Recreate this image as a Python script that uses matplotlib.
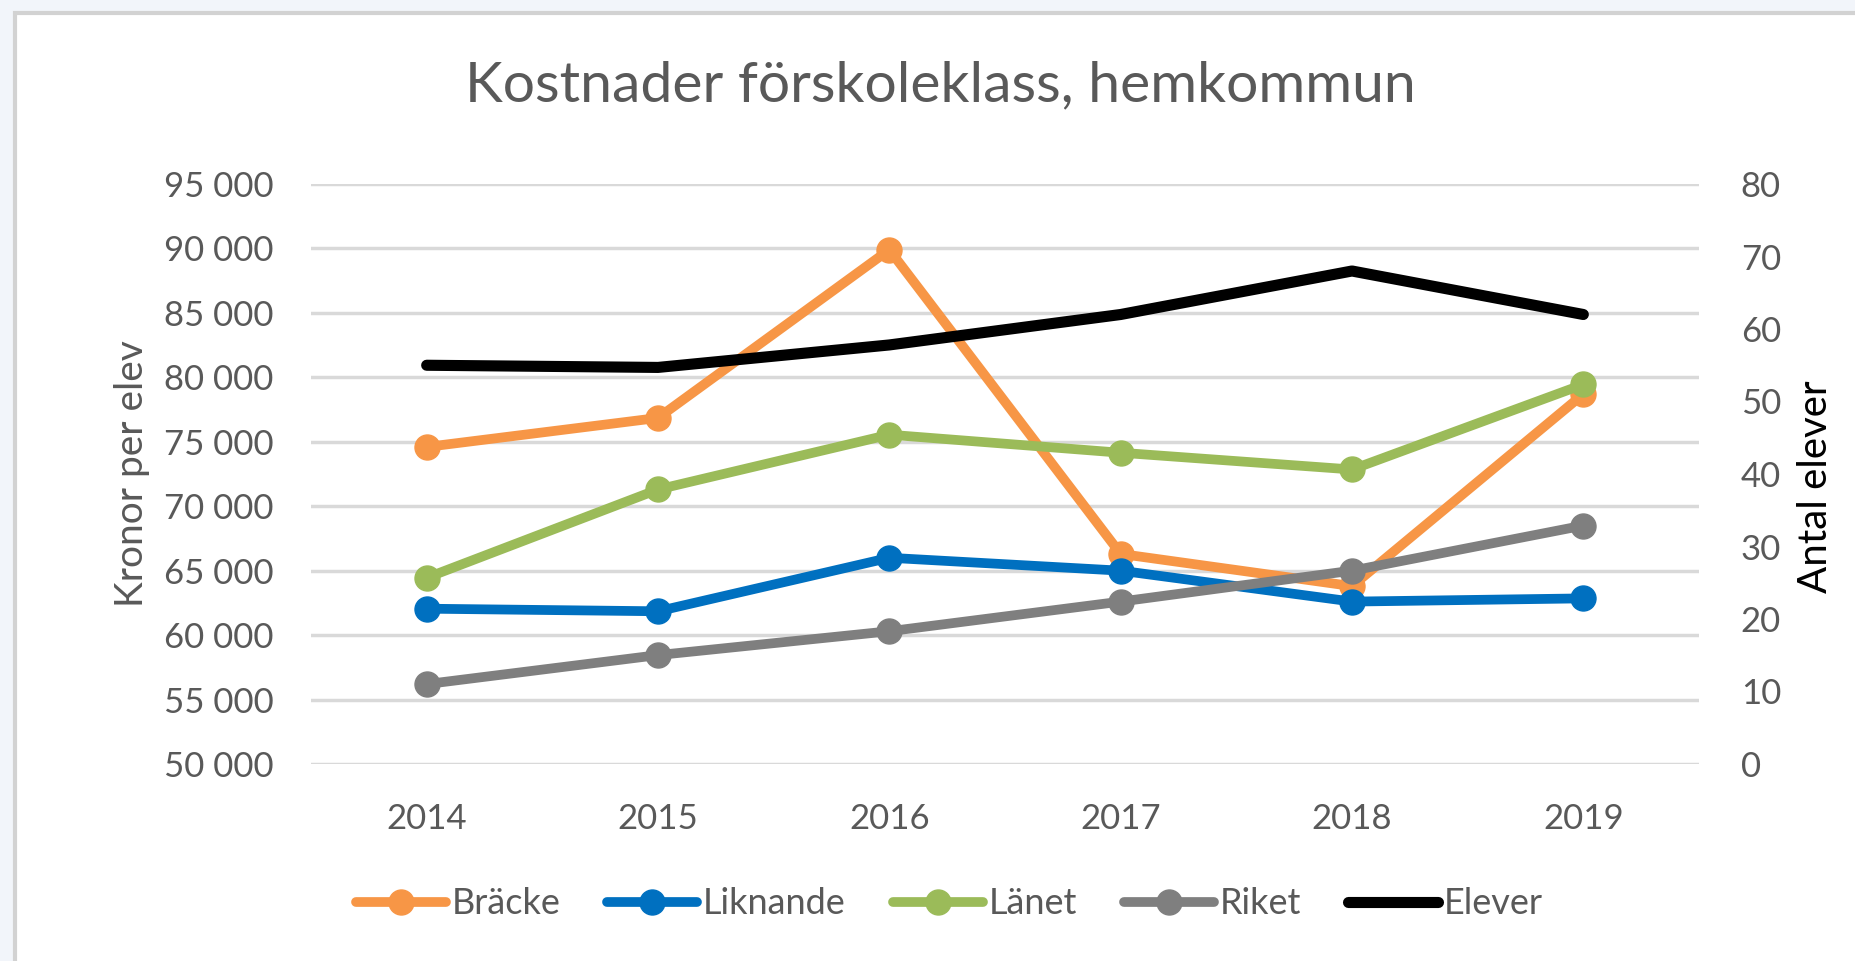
import matplotlib.pyplot as plt
from matplotlib.patches import Rectangle
from matplotlib.ticker import FuncFormatter, MultipleLocator

plt.rcParams['font.family'] = ['Lato', 'DejaVu Sans']

years = ["2014", "2015", "2016", "2017", "2018", "2019"]
bracke = [74600, 76850, 89900, 66300, 63800, 78700]
liknande = [62050, 61850, 66000, 65000, 62600, 62850]
lanet = [64450, 71300, 75550, 74150, 72850, 79450]
riket = [56200, 58450, 60300, 62600, 65000, 68500]
elever = [55, 54.7, 57.8, 62, 68, 62]

W, H = 1855, 961
fig = plt.figure(figsize=(W / 100, H / 100), dpi=100)
fig.patch.set_facecolor("#F2F5FA")

# white chart area with grey frame (runs off the right and bottom edges)
fig.patches.append(Rectangle((15 / W, -0.05), 1.1, 1.05 - 13 / H, transform=fig.transFigure,
                             facecolor="white", edgecolor="#D2D2D2", linewidth=3, zorder=-5))

ax = fig.add_axes([311 / W, 1 - 764 / H, (1699 - 311) / W, (764 - 184) / H])
ax.set_facecolor("none")
x = list(range(len(years)))
lw = 7
ms = 18

series = [("Bräcke", bracke, "#F79646"),
          ("Liknande", liknande, "#0070C0"),
          ("Länet", lanet, "#9BBB59"),
          ("Riket", riket, "#7F7F7F")]
handles = []
for name, vals, col in series:
    h, = ax.plot(x, vals, color=col, lw=lw, marker="o", ms=ms, label=name,
                 solid_joinstyle="round", solid_capstyle="round", zorder=3)
    handles.append(h)

ax.set_xlim(-0.5, 5.5)
ax.set_ylim(50000, 95000)
ax.yaxis.set_major_locator(MultipleLocator(5000))
ax.yaxis.set_major_formatter(FuncFormatter(lambda v, p: f"{int(v):,}".replace(",", " ")))
ax.grid(axis="y", color="#D9D9D9", lw=2.5)
ax.set_axisbelow(True)
ax.set_xticks(x)
ax.set_xticklabels(years)
for s in ax.spines.values():
    s.set_visible(False)
ax.tick_params(length=0, labelsize=25, colors="#595959")
ax.tick_params(axis="y", pad=27)
ax.tick_params(axis="x", pad=28)
ax.set_ylabel("Kronor per elev", fontsize=28, color="#595959")
ax.yaxis.set_label_coords(-0.116, 0.5)

ax2 = ax.twinx()
h, = ax2.plot(x, elever, color="black", lw=8, label="Elever",
              solid_joinstyle="round", solid_capstyle="round", zorder=4)
handles.append(h)
ax2.set_ylim(0, 80)
ax2.yaxis.set_major_locator(MultipleLocator(10))
for s in ax2.spines.values():
    s.set_visible(False)
ax2.tick_params(length=0, labelsize=25, colors="#595959", pad=30)
ax2.set_ylabel("Antal elever", fontsize=29, color="black")
ax2.yaxis.set_label_coords(1.0706, 0.478)

fig.text(940 / W, 1 - 86 / H, "Kostnader förskoleklass, hemkommun",
         ha="center", va="center", fontsize=41, color="#595959")

fig.legend(handles=handles, loc="center", bbox_to_anchor=(949 / W, 1 - 904 / H),
           ncol=5, frameon=False, fontsize=26, labelcolor="#595959",
           handlelength=2.5, handletextpad=0.15, columnspacing=1.3)

fig.savefig("out.png", dpi=100, facecolor=fig.get_facecolor())
